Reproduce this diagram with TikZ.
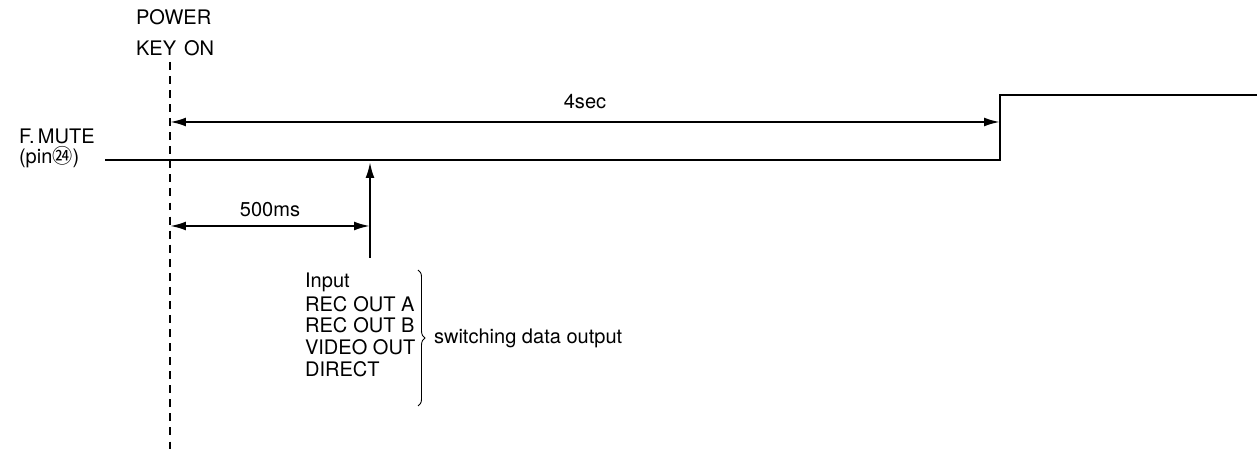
\documentclass[tikz,border=0pt]{standalone}
\usepackage{fontspec}
\setmainfont{TeX Gyre Heros}
\newfontfamily\cjkfont{Noto Sans CJK JP}
\usetikzlibrary{arrows.meta,positioning,decorations.pathreplacing}

\def\keyx{170}
\def\mutex{1000}
\def\lowlevel{160}
\def\highlevel{95}

\begin{document}
\begin{tikzpicture}[x=0.02cm,y=-0.02cm,line width=1.2pt,
        >={Latex[length=9pt,width=5pt]},
        font=\fontsize{11.4}{12.3}\selectfont]
        \tikzstyle{label}=[anchor=west,inner sep=0pt]
        \tikzstyle{dim}=[<->]
        \tikzstyle{marker}=[dash pattern=on 4.5pt off 3.5pt]
        \useasboundingbox (0,0) rectangle (1257,455);

        % Power key marker
        \node[label] (power) at (135,17) {POWER};
        \node[label] (keyon) at (135,48) {KEY\hspace{0.4em}ON};
        \coordinate (key-top) at (\keyx,62);
        \coordinate (key-bot) at (\keyx,452);
        \draw[marker] (key-top) -- (key-bot);

        % F.MUTE waveform
        \node[label] (fmute) at (18,136) {F.\,MUTE};
        \node[label] (pin) at (18,157) {(pin{\cjkfont\fontsize{11.5}{12}\selectfont ㉔})};
        \coordinate (m-start) at (105,\lowlevel);
        \coordinate (m-low) at (\mutex,\lowlevel);
        \coordinate (m-high) at (\mutex,\highlevel);
        \coordinate (m-end) at (1257,\highlevel);
        \draw (m-start) -- (m-low) -- (m-high) -- (m-end);

        % Timing arrows
        \coordinate (t4-a) at (\keyx,122);
        \coordinate (t4-b) at (\mutex,122);
        \draw[dim] (t4-a) -- node[above=3.5pt] (t4) {4sec} (t4-b);

        \coordinate (sw-top) at (370,\lowlevel+2);
        \coordinate (sw-bot) at (370,258);
        \draw[->] (sw-bot) -- (sw-top);

        \coordinate (t5-a) at (\keyx,226);
        \coordinate (t5-b) at (370,226);
        \draw[dim] (t5-a) -- node[above=1.5pt] (t5) {500ms} (t5-b);

        % Switching data list
        \foreach \txt [count=\i] in {Input,
                REC\hspace{0.3em}OUT~A,
                REC\hspace{0.3em}OUT~B,
                VIDEO~OUT,
                DIRECT}
            \node[label] (sw-\i) at (304,{282+21.75*(\i-1)}) {\txt};
        \coordinate (br-top) at (418,270);
        \coordinate (br-bot) at (418,406);
        \draw[line width=0.5pt,decorate,decoration={brace,amplitude=4pt}]
            (br-top) -- (br-bot);
        \node[label] (swout) at (433,338) {switching data output};
    \end{tikzpicture}
\end{document}
